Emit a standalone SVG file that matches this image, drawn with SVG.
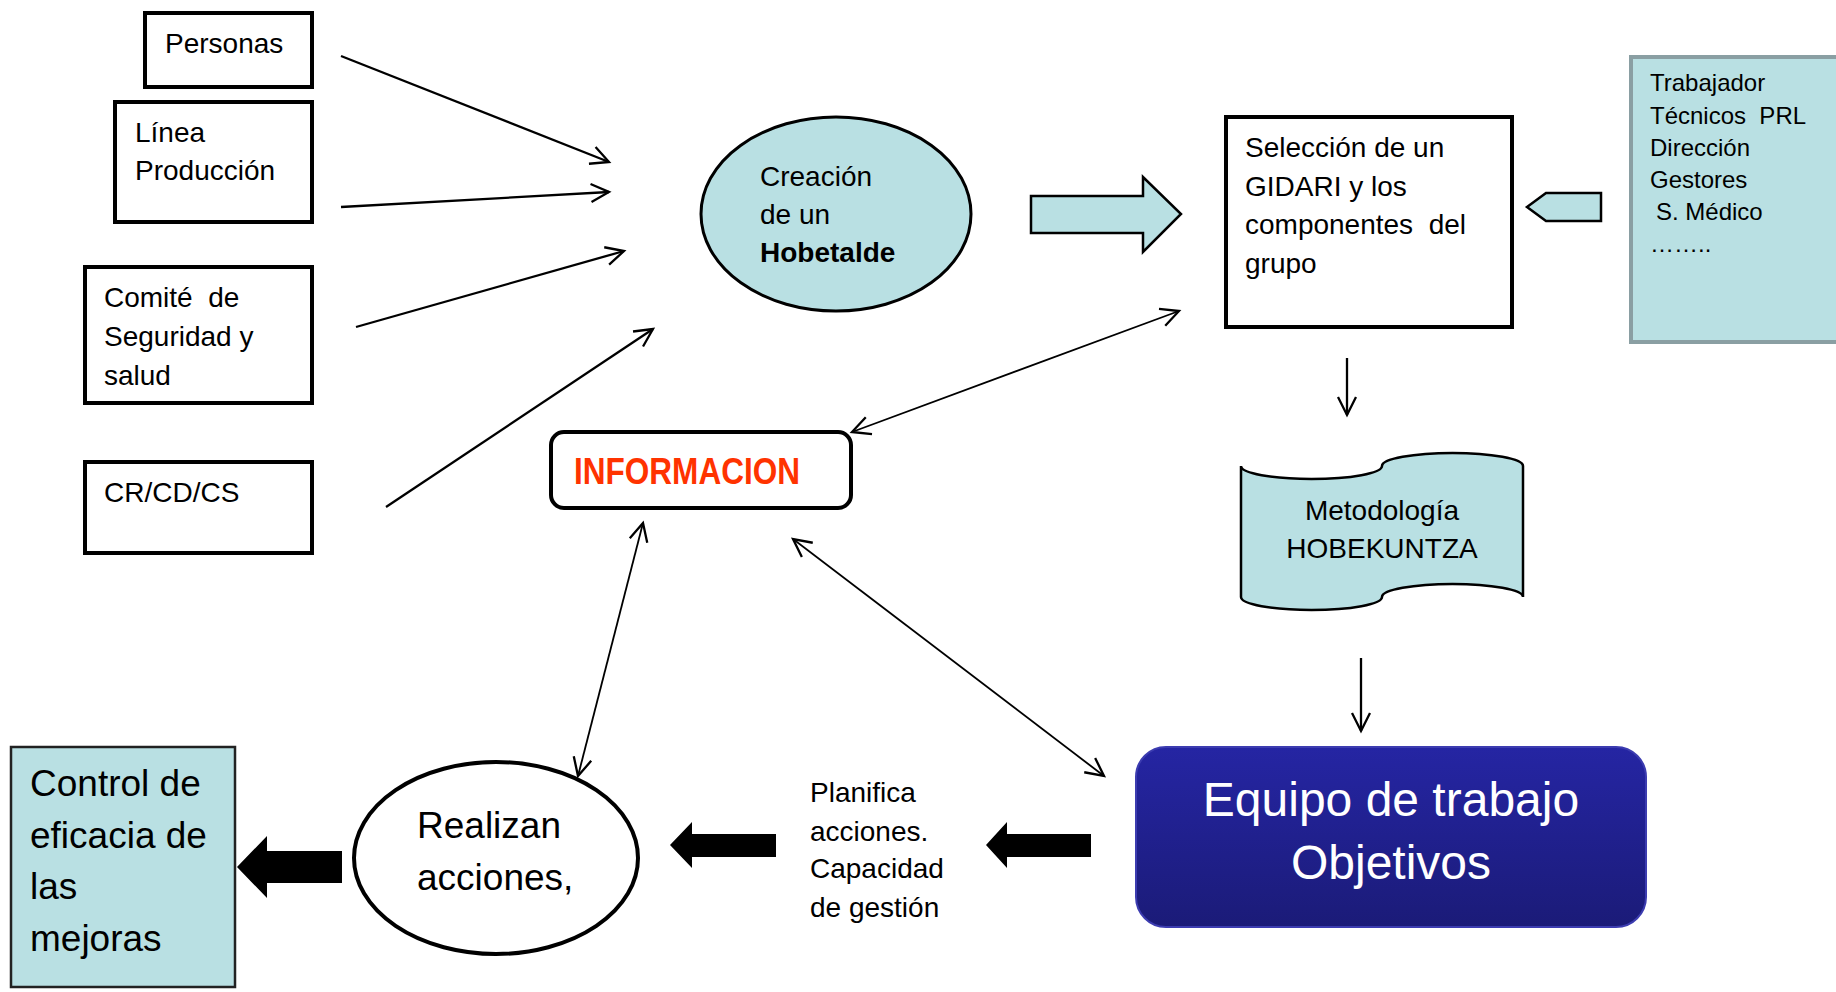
<svg xmlns="http://www.w3.org/2000/svg" width="1836" height="992" viewBox="0 0 1836 992">
<style>
text{font-family:"Liberation Sans",Arial,sans-serif;fill:#000}
.box{fill:#fff;stroke:#000;stroke-width:4}
.teal{fill:#b9e0e3}
.t28{font-size:28px}
.t24{font-size:24px}
.t37{font-size:37px}
.ln{fill:none;stroke:#000;stroke-width:2.3}
.ln2{fill:none;stroke:#000;stroke-width:1.8}
</style>
<defs>
<marker id="oa" viewBox="0 0 24 24" refX="21" refY="12" markerWidth="24" markerHeight="24" orient="auto-start-reverse" markerUnits="userSpaceOnUse">
<path d="M3,3 L21,12 L3,21" fill="none" stroke="#000" stroke-width="2.3"/>
</marker>
<linearGradient id="blue" x1="0" y1="0" x2="0" y2="1">
<stop offset="0" stop-color="#2525a3"/>
<stop offset="1" stop-color="#1b1b78"/>
</linearGradient>
</defs>
<rect width="1836" height="992" fill="#fff"/>

<g id="personas">
<rect class="box" x="145" y="13" width="167" height="74"/>
<text class="t28" x="165" y="53">Personas</text>
</g>
<g id="linea">
<rect class="box" x="115" y="102" width="197" height="120"/>
<text class="t28" x="135" y="142">Línea</text>
<text class="t28" x="135" y="180">Producción</text>
</g>
<g id="comite">
<rect class="box" x="85" y="267" width="227" height="136"/>
<text class="t28" x="104" y="307" xml:space="preserve">Comité  de</text>
<text class="t28" x="104" y="346">Seguridad y</text>
<text class="t28" x="104" y="385">salud</text>
</g>
<g id="crcdcs">
<rect class="box" x="85" y="462" width="227" height="91"/>
<text class="t28" x="104" y="502">CR/CD/CS</text>
</g>

<g id="creacion">
<ellipse cx="836" cy="214" rx="135" ry="97" class="teal" stroke="#000" stroke-width="3"/>
<text class="t28" x="760" y="186">Creación</text>
<text class="t28" x="760" y="224">de un</text>
<text class="t28" x="760" y="262" font-weight="bold">Hobetalde</text>
</g>

<g id="flecha-derecha">
<path d="M1031,196 L1143,196 L1143,177 L1181,214 L1143,252 L1143,233 L1031,233 Z" class="teal" stroke="#000" stroke-width="2.5"/>
</g>

<g id="seleccion">
<rect class="box" x="1226" y="117" width="286" height="210"/>
<text class="t28" x="1245" y="157">Selección de un</text>
<text class="t28" x="1245" y="196">GIDARI y los</text>
<text class="t28" x="1245" y="234" xml:space="preserve">componentes  del</text>
<text class="t28" x="1245" y="273">grupo</text>
</g>

<g id="flecha-izquierda">
<path d="M1527,207 L1546,193 L1601,193 L1601,221 L1546,221 Z" class="teal" stroke="#000" stroke-width="2.5"/>
</g>

<g id="trabajador">
<rect x="1631" y="57" width="215" height="285" class="teal" stroke="#8a9fa3" stroke-width="4"/>
<text class="t24" x="1650" y="91">Trabajador</text>
<text class="t24" x="1650" y="124" xml:space="preserve">Técnicos  PRL</text>
<text class="t24" x="1650" y="156">Dirección</text>
<text class="t24" x="1650" y="188">Gestores</text>
<text class="t24" x="1656" y="220">S. Médico</text>
<text class="t24" x="1650" y="252">……..</text>
</g>

<g id="metodologia">
<path d="M1241,466 A70.5,13 0 0 0 1382,466 A70.5,13 0 0 1 1523,466 L1523,597 A70.5,13 0 0 0 1382,597 A70.5,13 0 0 1 1241,597 Z" class="teal" stroke="#000" stroke-width="2.5"/>
<text class="t28" x="1382" y="520" text-anchor="middle">Metodología</text>
<text class="t28" x="1382" y="558" text-anchor="middle">HOBEKUNTZA</text>
</g>

<g id="informacion">
<rect class="box" x="551" y="432" width="300" height="76" rx="13"/>
<text x="574" y="484" font-size="36" font-weight="bold" textLength="226" lengthAdjust="spacingAndGlyphs" style="fill:#ff3300">INFORMACION</text>
</g>

<g id="equipo">
<rect x="1136" y="747" width="510" height="180" rx="30" fill="url(#blue)" stroke="#3c3cb0" stroke-width="2"/>
<text x="1391" y="816" font-size="48" text-anchor="middle" style="fill:#fff">Equipo de trabajo</text>
<text x="1391" y="879" font-size="48" text-anchor="middle" style="fill:#fff">Objetivos</text>
</g>

<g id="planifica">
<text class="t28" x="810" y="802">Planifica</text>
<text class="t28" x="810" y="841">acciones.</text>
<text class="t28" x="810" y="878">Capacidad</text>
<text class="t28" x="810" y="917">de gestión</text>
</g>

<g id="realizan">
<ellipse cx="496" cy="858" rx="142" ry="96" fill="#fff" stroke="#000" stroke-width="4"/>
<text class="t37" x="417" y="838">Realizan</text>
<text class="t37" x="417" y="890">acciones,</text>
</g>

<g id="control">
<rect x="11" y="747" width="224" height="240" class="teal" stroke="#222" stroke-width="2.5"/>
<text class="t37" x="30" y="796">Control de</text>
<text class="t37" x="30" y="848">eficacia de</text>
<text class="t37" x="30" y="899">las</text>
<text class="t37" x="30" y="951">mejoras</text>
</g>

<g id="connectors">
<line class="ln" x1="341" y1="56" x2="609" y2="162" marker-end="url(#oa)"/>
<line class="ln" x1="341" y1="207" x2="609" y2="192" marker-end="url(#oa)"/>
<line class="ln" x1="356" y1="327" x2="624" y2="251" marker-end="url(#oa)"/>
<line class="ln" x1="386" y1="507" x2="653" y2="329" marker-end="url(#oa)"/>
<line class="ln2" x1="852" y1="432" x2="1179" y2="311" marker-start="url(#oa)" marker-end="url(#oa)"/>
<line class="ln2" x1="643" y1="523" x2="578" y2="776" marker-start="url(#oa)" marker-end="url(#oa)"/>
<line class="ln2" x1="793" y1="539" x2="1104" y2="776" marker-start="url(#oa)" marker-end="url(#oa)"/>
<line class="ln" x1="1347" y1="358" x2="1347" y2="415" marker-end="url(#oa)"/>
<line class="ln" x1="1361" y1="658" x2="1361" y2="731" marker-end="url(#oa)"/>
<path d="M986,845 L1007,822 L1007,834 L1091,834 L1091,857 L1007,857 L1007,868 Z" fill="#000"/>
<path d="M670,845 L692,822 L692,834 L776,834 L776,857 L692,857 L692,868 Z" fill="#000"/>
<path d="M237,867 L267,836 L267,851 L342,851 L342,883 L267,883 L267,898 Z" fill="#000"/>
</g>
</svg>
